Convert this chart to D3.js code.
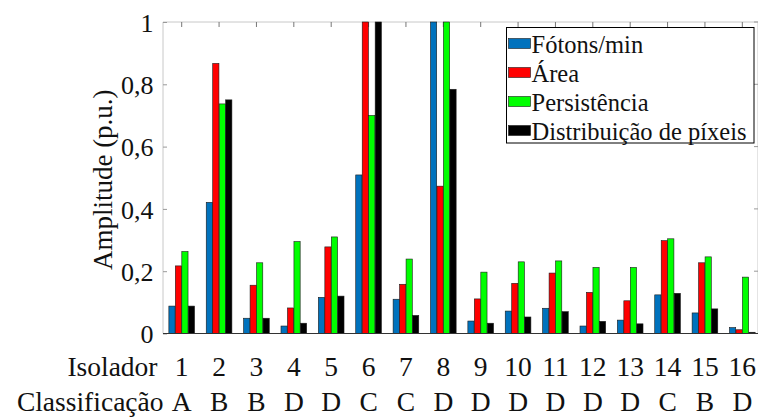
<!DOCTYPE html>
<html>
<head>
<meta charset="utf-8">
<script src="https://cdn.jsdelivr.net/npm/d3@7"></script>
<style>
  html, body { margin: 0; padding: 0; background: #fff; }
  svg { display: block; }
  svg text { font-family: "Liberation Serif", "Times New Roman", serif; }
</style>
</head>
<body>
<svg id="chart" width="758" height="417"></svg>
<script>
// Insulators, their classification and the four normalised indicators
const isoladores = ["1","2","3","4","5","6","7","8","9","10","11","12","13","14","15","16"];
const classificacao = ["A","B","B","D","D","C","C","D","D","D","D","D","D","C","B","D"];

const fotonsMin     = [0.088, 0.421, 0.049, 0.024, 0.116, 0.509, 0.110, 1.000, 0.040, 0.072, 0.081, 0.024, 0.043, 0.124, 0.066, 0.019];
const area          = [0.217, 0.867, 0.155, 0.082, 0.278, 1.000, 0.158, 0.473, 0.111, 0.161, 0.194, 0.132, 0.105, 0.298, 0.227, 0.012];
const persistencia  = [0.263, 0.737, 0.227, 0.295, 0.310, 0.700, 0.239, 1.000, 0.197, 0.230, 0.233, 0.212, 0.212, 0.304, 0.246, 0.181];
const distribuicao  = [0.088, 0.750, 0.049, 0.033, 0.120, 1.000, 0.058, 0.784, 0.033, 0.053, 0.070, 0.039, 0.031, 0.129, 0.079, 0.004];

const seriesNames  = ["Fótons/min", "Área", "Persistência", "Distribuição de píxeis"];
const seriesValues = [fotonsMin, area, persistencia, distribuicao];
const seriesColors = ["#0072BD", "#FF0000", "#00FF00", "#000000"];

const yTicks = [0, 0.2, 0.4, 0.6, 0.8, 1];
const yTickLabels = ["0", "0,2", "0,4", "0,6", "0,8", "1"];

const serif = "'Liberation Serif', 'Times New Roman', serif";

const svg = d3.select("#chart");
const plot = { left: 163, right: 761, top: 22, bottom: 333.5 };

const x = d3.scaleBand()
  .domain(isoladores)
  .range([plot.left, plot.right])
  .paddingInner(0.3)
  .paddingOuter(0.15);

const xi = d3.scaleBand()
  .domain(d3.range(seriesNames.length))
  .range([0, x.bandwidth()])
  .padding(0.04);

const y = d3.scaleLinear().domain([0, 1]).range([plot.bottom, plot.top]);

// Axes frame: light box with darker baseline
svg.append("line")
  .attr("x1", plot.left).attr("x2", plot.right)
  .attr("y1", plot.top).attr("y2", plot.top)
  .attr("stroke", "#c8c8c8").attr("stroke-width", 1);
svg.append("line")
  .attr("x1", plot.left).attr("x2", plot.left)
  .attr("y1", plot.top).attr("y2", plot.bottom)
  .attr("stroke", "#c8c8c8").attr("stroke-width", 1);
svg.append("line")
  .attr("x1", plot.right - 3).attr("x2", plot.right - 3)
  .attr("y1", plot.top).attr("y2", plot.bottom)
  .attr("stroke", "#c8c8c8").attr("stroke-width", 1);

// Top ticks at each insulator
svg.append("g")
  .selectAll("line")
  .data(isoladores)
  .join("line")
  .attr("x1", d => x(d) + x.bandwidth() / 2)
  .attr("x2", d => x(d) + x.bandwidth() / 2)
  .attr("y1", plot.top).attr("y2", plot.top + 5)
  .attr("stroke", "#777").attr("stroke-width", 1);

// Y axis ticks and labels
const yAxis = d3.axisLeft(y)
  .tickValues(yTicks)
  .tickFormat((d, i) => yTickLabels[i])
  .tickSizeInner(-4)
  .tickSizeOuter(0)
  .tickPadding(9.5);

const gy = svg.append("g")
  .attr("transform", `translate(${plot.left},0)`)
  .call(yAxis);
gy.select(".domain").remove();
gy.selectAll(".tick line").attr("stroke", "#999");
gy.selectAll(".tick text")
  .attr("font-size", 26)
  .attr("fill", "#111")
  .attr("dy", "0.36em");

// Right-side ticks
svg.append("g")
  .selectAll("line")
  .data(yTicks)
  .join("line")
  .attr("x1", plot.right - 3).attr("x2", plot.right - 7)
  .attr("y1", d => y(d)).attr("y2", d => y(d))
  .attr("stroke", "#999");

// Bars
const groups = svg.append("g")
  .selectAll("g")
  .data(isoladores)
  .join("g")
  .attr("transform", d => `translate(${x(d)},0)`);

groups.selectAll("rect")
  .data((d, i) => seriesValues.map((s, k) => ({ k, v: s[i] })))
  .join("rect")
  .attr("x", d => xi(d.k))
  .attr("width", xi.bandwidth())
  .attr("y", d => y(d.v))
  .attr("height", d => y(0) - y(d.v))
  .attr("fill", d => seriesColors[d.k])
  .attr("stroke", "#1a1a1a")
  .attr("stroke-width", 0.6);

// Baseline
svg.append("line")
  .attr("x1", plot.left).attr("x2", plot.right)
  .attr("y1", plot.bottom).attr("y2", plot.bottom)
  .attr("stroke", "#333").attr("stroke-width", 1.2);

// Y label
svg.append("text")
  .attr("transform", `translate(112,${(plot.top + plot.bottom) / 2 + 2}) rotate(-90)`)
  .attr("text-anchor", "middle")
  .attr("font-size", 27)
  .attr("fill", "#111")
  .text("Amplitude (p.u.)");

// Category rows under the axis
const rowLabels = [
  { title: "Isolador", values: isoladores, baseline: 376, titleEnd: 157.5 },
  { title: "Classificação", values: classificacao, baseline: 411, titleEnd: 163.5 }
];

rowLabels.forEach(row => {
  svg.append("text")
    .attr("x", row.titleEnd)
    .attr("y", row.baseline)
    .attr("text-anchor", "end")
    .attr("font-size", 27.5)
    .attr("fill", "#111")
    .text(row.title);
  svg.append("g")
    .selectAll("text")
    .data(row.values)
    .join("text")
    .attr("x", (d, i) => x(isoladores[i]) + x.bandwidth() / 2)
    .attr("y", row.baseline)
    .attr("text-anchor", "middle")
    .attr("font-size", 27.5)
    .attr("fill", "#111")
    .text(d => d);
});

// Legend
const legend = svg.append("g").attr("transform", "translate(506.5,27.5)");
legend.append("rect")
  .attr("width", 247.5).attr("height", 115.5)
  .attr("fill", "#fff").attr("stroke", "#000").attr("stroke-width", 1);

const rowH = 29;
const items = legend.selectAll("g.item")
  .data(seriesNames)
  .join("g")
  .attr("class", "item")
  .attr("transform", (d, i) => `translate(0,${16 + i * rowH})`);

items.append("rect")
  .attr("x", 2).attr("y", -5)
  .attr("width", 22).attr("height", 10)
  .attr("fill", (d, i) => seriesColors[i])
  .attr("stroke", "#1a1a1a").attr("stroke-width", 0.6);

items.append("text")
  .attr("x", 25)
  .attr("y", 9)
  .attr("font-size", 24.5)
  .attr("fill", "#111")
  .text(d => d);

// All labels in a Times-style serif face
svg.selectAll("text").style("font-family", serif);
</script>
</body>
</html>
